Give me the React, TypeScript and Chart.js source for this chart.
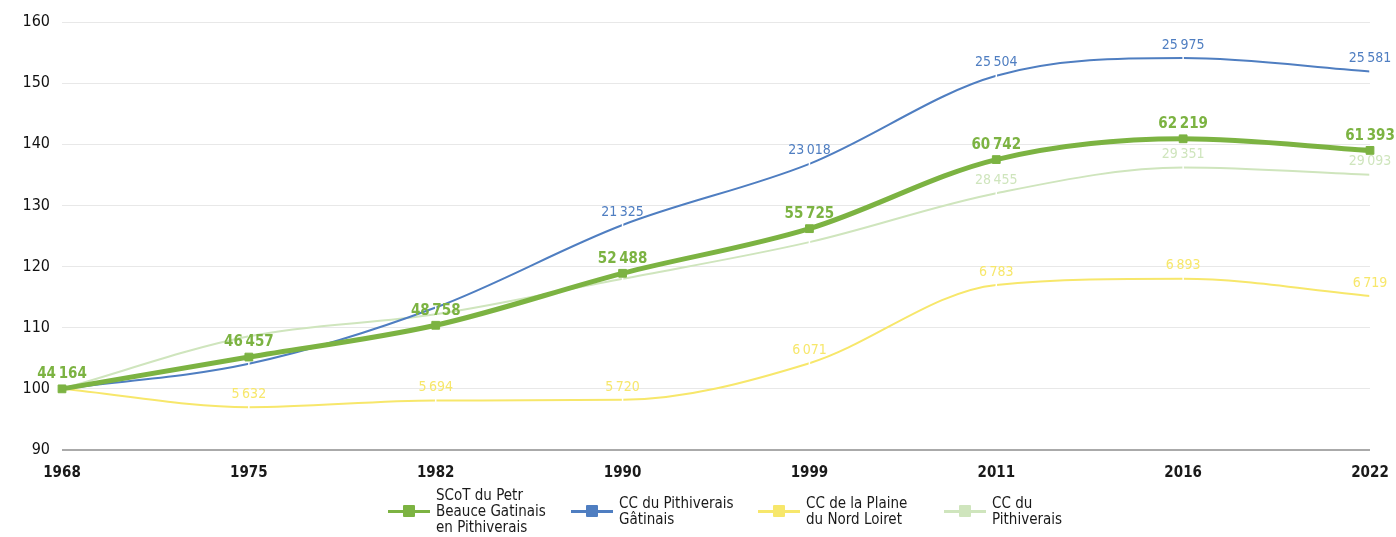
import React, { useEffect, useRef } from "react";
import { Chart, registerables } from "chart.js";

Chart.register(...registerables);

const years = ["1968", "1975", "1982", "1990", "1999", "2011", "2016", "2022"];
const yTicks = [90, 100, 110, 120, 130, 140, 150, 160];

const seriesNames = [
  ["SCoT du Petr", "Beauce Gatinais", "en Pithiverais"],
  ["CC du Pithiverais", "Gâtinais"],
  ["CC de la Plaine", "du Nord Loiret"],
  ["CC du", "Pithiverais"],
];
const seriesColors = ["#7cb342", "#4f7ec1", "#f7e76b", "#cfe5bd"];

// index base 100 in 1968
const scotIndex = [100, 105.2, 110.4, 118.9, 126.2, 137.5, 140.9, 139.0];
const ccpgIndex = [100, 104.1, 113.3, 126.8, 136.8, 151.2, 154.1, 151.9];
const plaineIndex = [100, 97.0, 98.1, 98.2, 104.2, 117.0, 118.0, 115.2];
const ccpIndex = [100, 108.6, 112.2, 118.0, 124.0, 132.0, 136.2, 135.0];

// population labels (null = not shown)
const scotPop = [44164, 46457, 48758, 52488, 55725, 60742, 62219, 61393];
const ccpgPop = [null, null, null, 21325, 23018, 25504, 25975, 25581];
const plainePop = [null, 5632, 5694, 5720, 6071, 6783, 6893, 6719];
const ccpPop = [null, null, null, null, null, 28455, 29351, 29093];

const FONT = "'DejaVu Sans Condensed', 'DejaVu Sans', sans-serif";

const fmt = (n: number) => String(n).replace(/\B(?=(\d{3})+(?!\d))/g, "\u202f");

const labelPlugin = {
  id: "popLabels",
  afterDatasetsDraw(chart: any) {
    const ctx = chart.ctx;
    const pops = [scotPop, ccpgPop, plainePop, ccpPop];
    ctx.save();
    ctx.textAlign = "center";
    ctx.textBaseline = "bottom";
    for (let d = pops.length - 1; d >= 0; d--) {
      const meta = chart.getDatasetMeta(d);
      ctx.fillStyle = seriesColors[d];
      ctx.font = d === 0 ? `bold 15px ${FONT}` : `14px ${FONT}`;
      pops[d].forEach((v, i) => {
        if (v == null) return;
        const el = meta.data[i];
        ctx.fillText(fmt(v), el.x, el.y - (d === 0 ? 7 : 6));
      });
    }
    ctx.restore();
  },
};

function LegendMarker({ color }: { color: string }) {
  return (
    <div style={{ position: "relative", width: 42, height: 14, flex: "0 0 auto" }}>
      <div style={{ position: "absolute", left: 0, right: 0, top: 5.5, height: 3, background: color }} />
      <div style={{ position: "absolute", left: 15, top: 1, width: 12, height: 12, background: color, borderRadius: 1 }} />
    </div>
  );
}

export default function App() {
  const ref = useRef<HTMLCanvasElement | null>(null);

  useEffect(() => {
    document.body.style.margin = "0";
    const canvas = ref.current;
    if (!canvas) return;
    const datasets = [scotIndex, ccpgIndex, plaineIndex, ccpIndex].map((data, i) => ({
      label: seriesNames[i].join(" "),
      data,
      borderColor: seriesColors[i],
      backgroundColor: i === 0 ? seriesColors[0] : "#ffffff",
      borderWidth: i === 0 ? 5 : 2,
      cubicInterpolationMode: "monotone",
      pointStyle: i === 0 ? "rect" : "line",
      pointRadius: i === 0 ? 5.5 : 2,
      pointRotation: i === 0 ? 0 : 90,
      pointBorderColor: i === 0 ? seriesColors[0] : "#ffffff",
      pointBorderWidth: i === 0 ? 1 : 1.5,
      fill: false,
    }));
    const chart = new Chart(canvas, {
      type: "line",
      data: { labels: years, datasets },
      options: {
        responsive: false,
        animation: false,
        layout: { padding: { left: 0, right: 26, top: 22, bottom: 47 } },
        plugins: { legend: { display: false }, tooltip: { enabled: false } },
        scales: {
          x: {
            type: "category",
            offset: false,
            grid: { display: false },
            border: { display: false },
            ticks: { color: "#1a1a1a", font: { family: FONT, size: 15, weight: "bold" }, padding: 6, maxRotation: 0 },
            afterFit: (s: any) => { s.height = 40; },
          },
          y: {
            min: 90,
            max: 160,
            afterBuildTicks: (s: any) => { s.ticks = yTicks.map((v) => ({ value: v })); },
            grid: {
              color: (c: any) => (c.tick && c.tick.value === 90 ? "#aaaaaa" : "#e8e8e8"),
              lineWidth: (c: any) => (c.tick && c.tick.value === 90 ? 2 : 1),
              drawTicks: false,
            },
            border: { display: false },
            ticks: { color: "#111111", font: { family: FONT, size: 16 }, padding: 12 },
            afterFit: (s: any) => { s.width = 62; },
          },
        },
      },
      plugins: [labelPlugin],
    } as any);
    return () => chart.destroy();
  }, []);

  const items = [
    { left: 388, top: 487 },
    { left: 571, top: 495 },
    { left: 758, top: 495 },
    { left: 944, top: 495 },
  ];

  return (
    <div style={{ position: "relative", width: 1396, height: 537, fontFamily: FONT, background: "#fff" }}>
      <canvas ref={ref} width={1396} height={537} style={{ display: "block", width: 1396, height: 537 }} />
      {items.map((p, i) => (
        <div
          key={i}
          style={{ position: "absolute", left: p.left, top: p.top, display: "flex", alignItems: "center", gap: 6 }}
        >
          <LegendMarker color={seriesColors[i]} />
          <div style={{ fontSize: 15, lineHeight: "16px", color: "#1a1a1a" }}>
            {seriesNames[i].map((t, j) => (
              <div key={j}>{t}</div>
            ))}
          </div>
        </div>
      ))}
    </div>
  );
}
